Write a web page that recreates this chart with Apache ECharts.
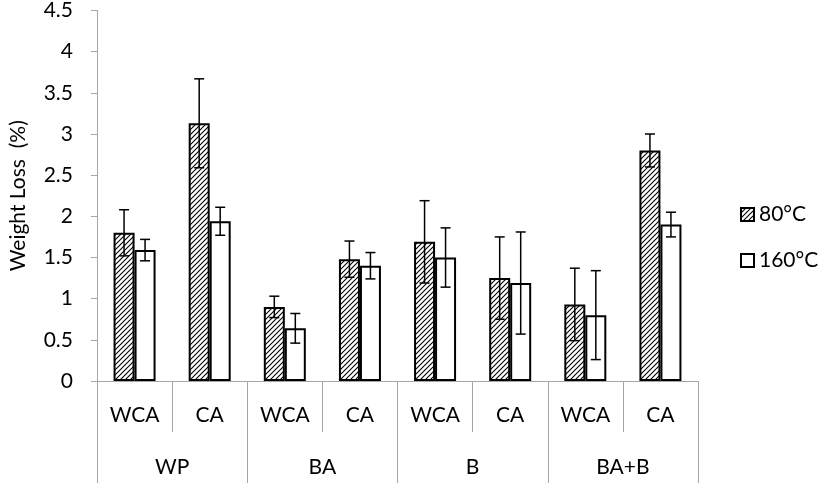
<!DOCTYPE html>
<html><head><meta charset="utf-8">
<script src="https://cdn.jsdelivr.net/npm/echarts@6/dist/echarts.min.js"></script>
<style>html,body{margin:0;padding:0;background:#fff}#c{width:820px;height:483px}</style>
</head><body><div id="c"></div>
<script>
const subCategories = ['WCA','CA','WCA','CA','WCA','CA','WCA','CA'];
const groups = ['WP','BA','B','BA+B'];
const series80 = [1.80, 3.13, 0.90, 1.48, 1.69, 1.25, 0.93, 2.80];
const err80 = [0.28, 0.54, 0.13, 0.22, 0.50, 0.50, 0.44, 0.20];
const series160 = [1.59, 1.94, 0.64, 1.40, 1.50, 1.19, 0.80, 1.90];
const err160 = [0.13, 0.17, 0.18, 0.16, 0.36, 0.62, 0.54, 0.15];
const yTicks = {min: 0, max: 4.5, interval: 0.5};

const FONT = 'Lato';
const FS = 21;
const BW = 21;

// hatch pattern
const pc = document.createElement('canvas');
pc.width = 5; pc.height = 5;
const g = pc.getContext('2d');
g.fillStyle = '#fff'; g.fillRect(0,0,5,5);
g.strokeStyle = '#000'; g.lineWidth = 1.1;
g.beginPath();
g.moveTo(-1,6); g.lineTo(6,-1);
g.moveTo(-1,1); g.lineTo(1,-1);
g.moveTo(4,6); g.lineTo(6,4);
g.stroke();
const hatch = {image: pc, repeat: 'repeat'};

function errRender(offset){
  return function(params, api){
    const i = api.value(0), v = api.value(1), e = api.value(2);
    const t = api.coord([i, v + e]);
    const b = api.coord([i, v - e]);
    const x = t[0] + offset;
    const cap = 5;
    const st = {stroke: '#000', lineWidth: 1.5};
    return {type: 'group', children: [
      {type: 'line', shape: {x1: x, y1: t[1], x2: x, y2: b[1]}, style: st},
      {type: 'line', shape: {x1: x-cap, y1: t[1], x2: x+cap, y2: t[1]}, style: st},
      {type: 'line', shape: {x1: x-cap, y1: b[1], x2: x+cap, y2: b[1]}, style: st}
    ]};
  };
}

const chart = echarts.init(document.getElementById('c'));
chart.setOption({
  animation: false,
  backgroundColor: '#fff',
  textStyle: {fontFamily: FONT},
  grid: {left: 94, right: 122, top: 10, bottom: 102, containLabel: false},
  legend: {
    orient: 'vertical', left: 735, top: 199, itemGap: 25,
    itemWidth: 13, itemHeight: 13, icon: 'rect',
    data: ['80°C', '160°C'],
    textStyle: {fontSize: FS, color: '#000', fontFamily: FONT}
  },
  xAxis: [{
    type: 'category', data: subCategories, position: 'bottom',
    axisLine: {show: true, lineStyle: {color: '#a6a6a6', width: 1}},
    axisTick: {show: true, length: 51, interval: 0, lineStyle: {color: '#a6a6a6'}},
    axisLabel: {interval: 0, margin: 24, fontSize: FS, color: '#000', fontFamily: FONT}
  }, {
    type: 'category', data: groups, position: 'bottom',
    axisLine: {show: false},
    axisTick: {show: true, length: 102, interval: 0, lineStyle: {color: '#a6a6a6'}},
    axisLabel: {interval: 0, margin: 76, fontSize: FS, color: '#000', fontFamily: FONT}
  }],
  yAxis: {
    type: 'value', min: yTicks.min, max: yTicks.max, interval: yTicks.interval,
    name: 'Weight Loss  (%)', nameLocation: 'middle', nameGap: 68,
    nameTextStyle: {fontSize: FS, color: '#000', fontFamily: FONT},
    axisLine: {show: true, lineStyle: {color: '#a6a6a6'}},
    axisTick: {show: true, length: 6, lineStyle: {color: '#a6a6a6'}},
    splitLine: {show: false},
    axisLabel: {fontSize: FS, color: '#000', margin: 24, fontFamily: FONT}
  },
  series: [{
    name: '80°C', type: 'bar', data: series80, barWidth: BW, barGap: '0%',
    itemStyle: {color: hatch, borderColor: '#000', borderWidth: 2}
  }, {
    name: '160°C', type: 'bar', data: series160, barWidth: BW, barGap: '0%',
    itemStyle: {color: '#fff', borderColor: '#000', borderWidth: 2}
  }, {
    name: 'err80', type: 'custom', renderItem: errRender(-BW/2), z: 5,
    data: series80.map((v,i)=>[i, v, err80[i]]), encode: {x: 0, y: 1}
  }, {
    name: 'err160', type: 'custom', renderItem: errRender(BW/2), z: 5,
    data: series160.map((v,i)=>[i, v, err160[i]]), encode: {x: 0, y: 1}
  }]
});
</script></body></html>
